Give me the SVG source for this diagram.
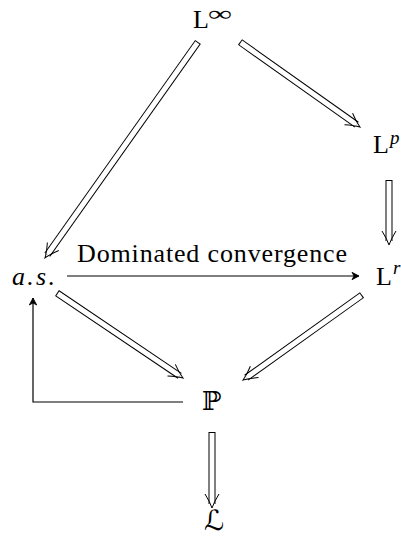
<svg xmlns="http://www.w3.org/2000/svg" width="401" height="537" viewBox="0 0 401 537">
<style>
.t{font-family:"Liberation Serif","Tinos","Times New Roman","DejaVu Serif",serif;font-size:26px;fill:#000}
.i{font-style:italic}
.bb{font-family:"DejaVu Serif","DejaVu Sans",serif;font-size:25px;fill:#000}
.out{fill:none;stroke:#000;stroke-width:7}
.in{fill:none;stroke:#fff;stroke-width:5;marker-end:url(#imp)}
.sgl{fill:none;stroke:#000;stroke-width:1.2;marker-end:url(#to)}
</style>
<defs>
<marker id="imp" markerUnits="userSpaceOnUse" markerWidth="30" markerHeight="30" refX="15" refY="15" orient="auto" overflow="visible">
<path d="M5,8 Q13,13 19,15 Q13,17 5,22" fill="none" stroke="#000" stroke-width="1"/>
</marker>
<marker id="to" markerUnits="userSpaceOnUse" markerWidth="20" markerHeight="20" refX="10" refY="10" orient="auto" overflow="visible">
<path d="M10,10 L3,6.3 L5,10 L3,13.7 Z" fill="#000" stroke="#000" stroke-width="0.8" stroke-linejoin="round"/>
</marker>
</defs>
<g id="connectors">
<path class="out" d="M198,42 L47.3,254.7"/>
<path class="in" d="M197.4,42.8 L47.3,254.7"/>
<path class="out" d="M240,42 L356.7,124.7"/>
<path class="in" d="M240.8,42.6 L356.7,124.7"/>
<path class="out" d="M389,180 L389,241"/>
<path class="in" d="M389,181 L389,241"/>
<path class="out" d="M57,293 L179.7,375.8"/>
<path class="in" d="M57.8,293.6 L179.7,375.8"/>
<path class="out" d="M362,295 L246.3,377.7"/>
<path class="in" d="M361.2,295.6 L246.3,377.7"/>
<path class="out" d="M212,432 L212,504"/>
<path class="in" d="M212,433 L212,504"/>
<path class="sgl" d="M67,276 H359"/>
<path class="sgl" d="M183,402 H33 V298"/>
<text class="t" x="77" y="262" textLength="270" lengthAdjust="spacing">Dominated convergence</text>
</g>
<g id="Linf">
<text class="t" x="193" y="28">L</text>
<text class="t" x="208" y="21" style="font-size:22px" textLength="24" lengthAdjust="spacingAndGlyphs">∞</text>
</g>
<g id="Lp">
<text class="t" x="373" y="153">L</text>
<text class="t i" x="390" y="144" style="font-size:19px">p</text>
</g>
<g id="Lr">
<text class="t" x="376" y="285">L</text>
<text class="t i" x="393" y="274" style="font-size:19px">r</text>
</g>
<g id="as">
<text class="t i" x="12" y="285" textLength="43" lengthAdjust="spacing">a.s.</text>
</g>
<g id="P">
<text class="bb" x="202" y="410" style="font-size:26px">ℙ</text>
</g>
<g id="Law">
<text class="bb i" x="204" y="530" style="font-size:28px">ℒ</text>
</g>
</svg>
